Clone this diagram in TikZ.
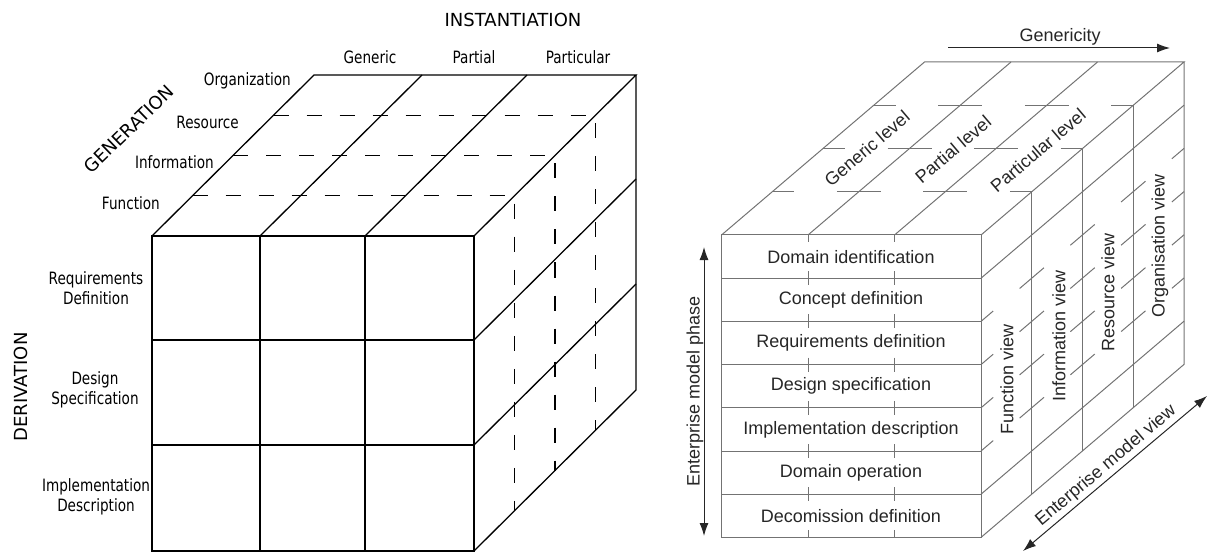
\documentclass[tikz,border=0pt]{standalone}
\usepackage{fontspec}
\setmainfont{Liberation Sans}
\newfontfamily\axisfont{DejaVu Sans}
\newfontfamily\narrowfont[FakeStretch=0.8]{DejaVu Sans}
\usepackage{tikz}
\usetikzlibrary{arrows.meta}

\begin{document}
\begin{tikzpicture}[x=1pt, y=-1pt,
  edge/.style={line width=1.3pt, black},
  hidden/.style={line width=1.2pt, black, dash pattern=on 15pt off 18pt},
  axislabel/.style={font=\axisfont\fontsize{18}{21}\selectfont, inner sep=0pt},
  smalllabel/.style={font=\narrowfont\fontsize{17}{20}\selectfont, align=center, inner sep=0pt},
  grid/.style={line width=1pt, black!55},
  tickline/.style={grid, dash pattern=on 14pt off 29.2pt, dash phase=7pt},
  levelline/.style={grid, dash pattern=on 44pt off 42.5pt, dash phase=22pt},
  viewline/.style={grid, dash pattern=on 32pt off 34.7pt, dash phase=16pt},
  cubetext/.style={font=\fontsize{18}{21}\selectfont, text=black!85, inner sep=0pt},
  arrowline/.style={line width=1pt, black!85}]
\useasboundingbox (0,0) rectangle (1209,553);

% left cube
\draw[edge] (152,236) rectangle (474,551);
\draw[edge] (260,236) -- (260,551);
\draw[edge] (365,236) -- (365,551);
\draw[edge] (152,340) -- (474,340);
\draw[edge] (152,445) -- (474,445);
\draw[edge] (152,236) -- (314,75) -- (636,75) -- (474,236);
\draw[edge] (260,236) -- (422,75);
\draw[edge] (365,236) -- (527,75);
\draw[edge] (636,75) -- (636,390) -- (474,551);
\draw[edge] (474,340) -- (636,179);
\draw[edge] (474,445) -- (636,284);
\draw[hidden] (192.5,195.75) -- (514.5,195.75) -- (514.5,510.75);
\draw[hidden] (233,155.5) -- (555,155.5) -- (555,470.5);
\draw[hidden] (273.5,115.25) -- (595.5,115.25) -- (595.5,430.25);

\node[axislabel] (instantiation) at (513,20) {INSTANTIATION};
\node[smalllabel] (generic) at (370,57) {Generic};
\node[smalllabel] (partial) at (474,57) {Partial};
\node[smalllabel] (particular) at (578,57) {Particular};
\node[smalllabel, anchor=east] (organization) at (291,81) {Organization};
\node[smalllabel, anchor=east] (resource) at (239,122) {Resource};
\node[smalllabel, anchor=east] (information) at (214,162) {Information};
\node[smalllabel, anchor=east] (function) at (160,203) {Function};
\node[axislabel, rotate=44] (generation) at (129,129) {GENERATION};
\node[axislabel, rotate=90] (derivation) at (21,387) {DERIVATION};
\node[smalllabel] (reqdef) at (96,288) {Requirements\\Definition};
\node[smalllabel] (desspec) at (95,390) {Design\\Specification};
\node[smalllabel] (impldesc) at (96,497) {Implementation\\Description};

% right cube
\draw[grid] (721.5,235) rectangle (981,537.4);
\draw[grid] (721.5,278.2) -- (981,278.2);
\draw[grid] (721.5,321.4) -- (981,321.4);
\draw[grid] (721.5,364.6) -- (981,364.6);
\draw[grid] (721.5,407.8) -- (981,407.8);
\draw[grid] (721.5,451) -- (981,451);
\draw[grid] (721.5,494.2) -- (981,494.2);
\draw[tickline] (808,235) -- (808,537.4);
\draw[tickline] (894.5,235) -- (894.5,537.4);

\draw[grid] (721.5,235) -- (924.5,62) -- (1184,62) -- (981,235);
\draw[grid] (808,235) -- (1011,62);
\draw[grid] (894.5,235) -- (1097.5,62);
\draw[levelline] (772.25,191.75) -- (1031.75,191.75);
\draw[levelline] (823,148.5) -- (1082.5,148.5);
\draw[levelline] (873.75,105.25) -- (1133.25,105.25);

\draw[grid] (1184,62) -- (1184,364.4) -- (981,537.4);
\draw[grid] (1031.75,191.75) -- (1031.75,494.15);
\draw[grid] (1082.5,148.5) -- (1082.5,450.9);
\draw[grid] (1133.25,105.25) -- (1133.25,407.65);
\draw[grid] (981,278.2) -- (1184,105.2);
\draw[viewline] (981,321.4) -- (1184,148.4);
\draw[viewline] (981,364.6) -- (1184,191.6);
\draw[viewline] (981,407.8) -- (1184,234.8);
\draw[viewline] (981,451) -- (1184,278);
\draw[grid] (981,494.2) -- (1184,321.2);

\node[cubetext] (domid) at (851,256.6) {Domain identification};
\node[cubetext] (concdef) at (851,299.8) {Concept definition};
\node[cubetext] (reqdef2) at (851,343) {Requirements definition};
\node[cubetext] (desspec2) at (851,386.2) {Design specification};
\node[cubetext] (impldesc2) at (851,429.4) {Implementation description};
\node[cubetext] (domop) at (851,472.6) {Domain operation};
\node[cubetext] (decomdef) at (851,515.8) {Decomission definition};

\node[cubetext, rotate=40.4] (genlevel) at (867,148.5) {Generic level};
\node[cubetext, rotate=40.4] (partlevel) at (953,149.5) {Partial level};
\node[cubetext, rotate=40.4] (particlevel) at (1038,150.5) {Particular level};

\node[cubetext, rotate=90] (funcview) at (1007,379) {Function view};
\node[cubetext, rotate=90] (infoview) at (1059,336) {Information view};
\node[cubetext, rotate=90] (resview) at (1108,292) {Resource view};
\node[cubetext, rotate=90] (orgview) at (1160,246) {Organisation view};

\coordinate (gen-start) at (948,48);
\coordinate (gen-end) at (1170,48);
\draw[arrowline, -{Latex[length=13pt, width=9pt]}] (gen-start) -- (gen-end);
\node[cubetext] (genericity) at (1060,37) {Genericity};

\coordinate (phase-top) at (704,247);
\coordinate (phase-bottom) at (704,536);
\draw[arrowline, {Latex[length=13pt, width=9pt]}-{Latex[length=13pt, width=9pt]}] (phase-top) -- (phase-bottom);
\node[cubetext, rotate=90] (phase) at (695,391) {Enterprise model phase};

\coordinate (view-start) at (1023,551);
\coordinate (view-end) at (1207,396);
\draw[arrowline, {Latex[length=13pt, width=9pt]}-{Latex[length=13pt, width=9pt]}] (view-start) -- (view-end);
\node[cubetext, rotate=40.1] (modelview) at (1106,466) {Enterprise model view};

\end{tikzpicture}
\end{document}
